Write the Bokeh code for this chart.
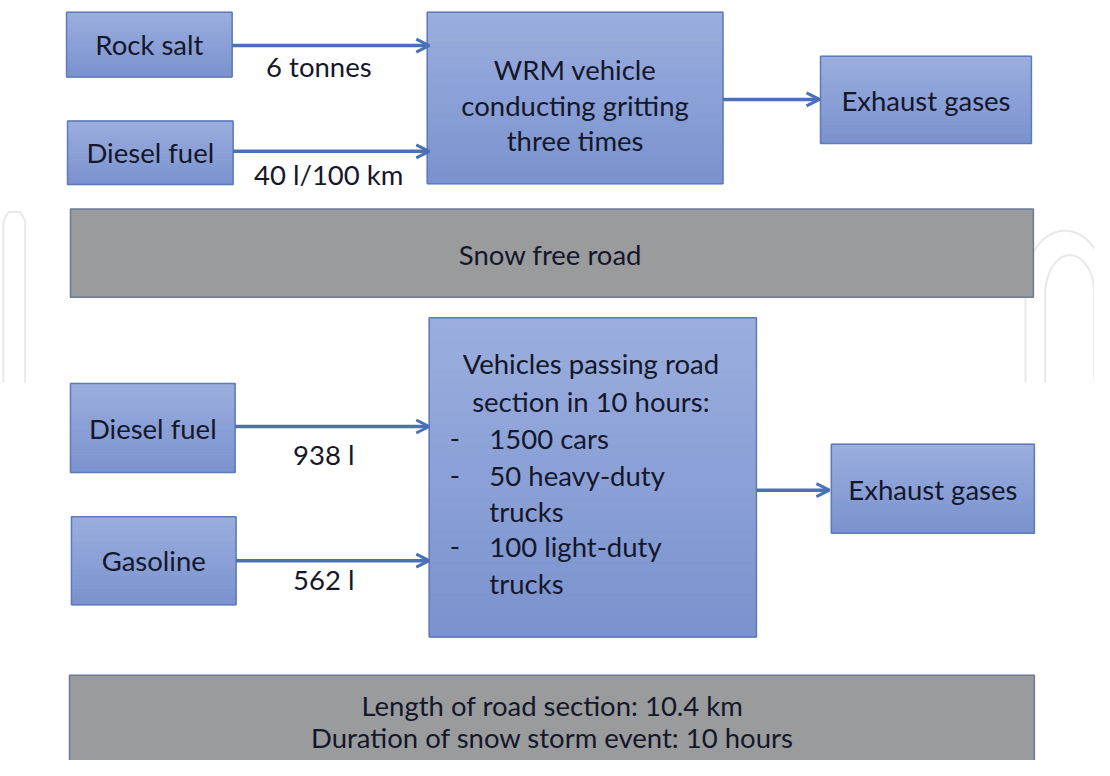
from bokeh.plotting import figure
from bokeh.models import Range1d, Arrow, OpenHead
from bokeh.core.properties import value
from bokeh.embed import file_html
from bokeh.resources import INLINE
import numpy as np

# ---- data (texts of the diagram) ----
top_inputs = ["Rock salt", "Diesel fuel"]
top_flows = ["6 tonnes", "40 l/100 km"]
top_process = ["WRM vehicle", "conducting gritting", "three times"]
output_label = "Exhaust gases"
road_label = "Snow free road"
bottom_inputs = ["Diesel fuel", "Gasoline"]
bottom_flows = ["938 l", "562 l"]
bottom_process_head = ["Vehicles passing road", "section in 10 hours:"]
bottom_process_items = ["1500 cars", "50 heavy-duty", "trucks", "100 light-duty", "trucks"]
bottom_item_dash = [True, True, False, True, False]
footer_lines = ["Length of road section: 10.4 km", "Duration of snow storm event: 10 hours"]

# ---- layout (pixel coordinates of the reference picture) ----
W, H = 1094, 760
p = figure(width=W, height=H, x_range=Range1d(0, 1110), y_range=Range1d(776, 0),
           output_backend="svg", toolbar_location=None, min_border=0,
           background_fill_color="white", border_fill_color="white")
p.axis.visible = False
p.grid.visible = False
p.outline_line_color = None

FONT = value("Lato")
TXT = "#15172b"
FS = "27.5px"
BLUE_TOP = np.array([0x9b, 0xae, 0xde])
BLUE_BOT = np.array([0x7b, 0x93, 0xcf])
EDGE = "#5d7abb"
ARROW = "#4a70b6"
GREY = "#999b9c"
GREY_EDGE = "#6c7a98"

# faint watermark
wm = "#e8e8e8"
p.line([3, 3, 8, 20, 25, 25], [390, 225, 216, 216, 225, 390], line_color=wm, line_width=2)
t = np.linspace(np.pi, 0, 40)
p.line(np.r_[1040, 1080 + 40 * np.cos(t), 1120],
       np.r_[390, 290 - 55 * np.sin(t), 290], line_color=wm, line_width=2)
p.line(np.r_[1060, 1085 + 25 * np.cos(t), 1110],
       np.r_[390, 300 - 40 * np.sin(t), 390], line_color=wm, line_width=2)


def blue_box(x0, y0, x1, y1, n=30):
    ys = np.linspace(y0, y1, n + 1)
    cols = []
    for i in range(n):
        f = i / (n - 1)
        c = (BLUE_TOP * (1 - f) + BLUE_BOT * f).astype(int)
        cols.append("#%02x%02x%02x" % tuple(c))
    p.quad(left=[x0] * n, right=[x1] * n, top=list(ys[:-1]), bottom=list(ys[1:]),
           fill_color=cols, line_color=cols, line_width=1)
    p.quad(left=[x0], right=[x1], top=[y0], bottom=[y1], fill_color=None,
           line_color=EDGE, line_width=1.5)


def grey_box(x0, y0, x1, y1):
    p.quad(left=[x0], right=[x1], top=[y0], bottom=[y1], fill_color=GREY,
           line_color=GREY_EDGE, line_width=1.5)


def label(xs, ys, texts, align="center"):
    p.text(x=xs, y=ys, text=texts, text_font=FONT, text_font_size=FS, text_color=TXT,
           text_align=align, text_baseline="middle")


def arrow(x0, x1, y):
    p.add_layout(Arrow(end=OpenHead(line_color=ARROW, line_width=3, size=13),
                       x_start=x0, y_start=y, x_end=x1, y_end=y,
                       line_color=ARROW, line_width=3.5))


# ---- upper part ----
in_boxes_top = [(67, 12, 235, 78), (68, 123, 236, 188)]
for (x0, y0, x1, y1), name in zip(in_boxes_top, top_inputs):
    blue_box(x0, y0, x1, y1)
    label([(x0 + x1) / 2], [(y0 + y1) / 2], [name])
arrow(235, 435, 46)
arrow(236, 435, 154)
label([323, 333], [67, 178], top_flows)

blue_box(433, 12, 733, 187)
label([583] * 3, [70, 107, 143], top_process)
arrow(733, 831, 101)
blue_box(832, 57, 1046, 146)
label([939], [102], [output_label])

grey_box(71, 213, 1048, 303)
label([558], [259], [road_label])

# ---- lower part ----
in_boxes_bot = [(71, 391, 238, 482), (72, 527, 239, 617)]
for (x0, y0, x1, y1), name in zip(in_boxes_bot, bottom_inputs):
    blue_box(x0, y0, x1, y1)
    label([(x0 + x1) / 2], [(y0 + y1) / 2], [name])
arrow(238, 435, 435)
arrow(239, 435, 572)
label([328, 328], [464, 591], bottom_flows)

blue_box(435, 324, 767, 650)
label([599, 599], [371, 409], bottom_process_head)
item_y = [447, 485, 522, 558, 595]
label([496] * 5, item_y, bottom_process_items, align="left")
dash_y = [y for y, d in zip(item_y, bottom_item_dash) if d]
label([461] * len(dash_y), dash_y, ["-"] * len(dash_y))
arrow(767, 841, 500)
blue_box(843, 453, 1049, 544)
label([946], [499], [output_label])

grey_box(70, 689, 1049, 800)
label([560, 560], [720, 753], footer_lines)

open("out.html", "w").write(file_html(p, INLINE))
